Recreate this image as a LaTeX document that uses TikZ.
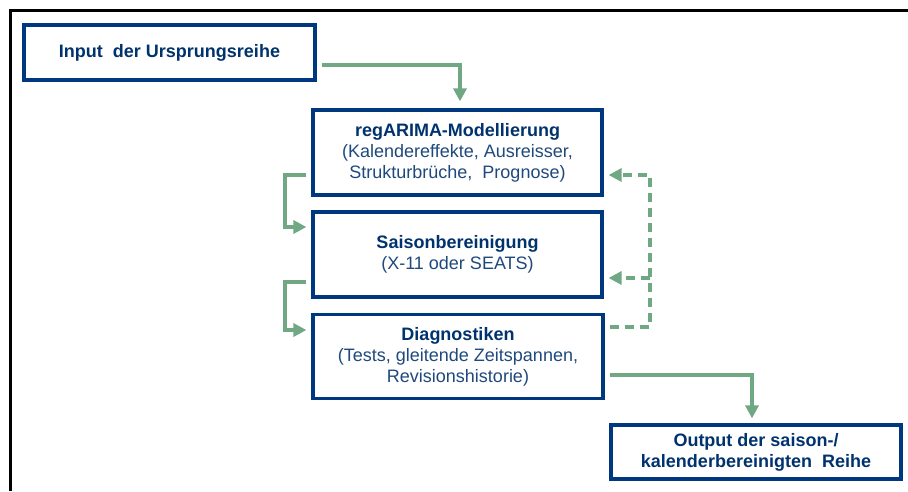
\documentclass[tikz,border=0pt]{standalone}
\usepackage{fontspec}
\setmainfont{Liberation Sans}
\usepackage{xcolor}
\usetikzlibrary{arrows.meta,calc,positioning}
\definecolor{boxblue}{RGB}{0,56,128}
\definecolor{textblue}{RGB}{0,51,110}
\definecolor{subblue}{RGB}{31,73,125}
\definecolor{flowgreen}{RGB}{112,168,132}

\begin{document}
\begin{tikzpicture}[x=1pt,y=-1pt,
  box/.style={draw=boxblue,line width=3.2pt,fill=white,align=center,
    font=\fontsize{18}{21}\selectfont,text=subblue,inner sep=0pt},
  flow/.style={draw=flowgreen,line width=4pt,
    -{Triangle[length=13pt,width=13pt]},shorten <=5pt,shorten >=5pt},
  feedback/.style={flow,dash pattern=on 9pt off 6pt}]
  \useasboundingbox (0,0) rectangle (908,491);
  \draw[line width=3pt] (10,491) -- (10,10) -- (908,10);

  \node[box,minimum width=291pt,minimum height=55pt] (input) at (169.5,52.5)
    {\textbf{\color{textblue}Input\ \ der Ursprungsreihe}};
  \node[box,minimum width=289pt,minimum height=85pt] (regarima) at (457.5,152.5)
    {\textbf{\color{textblue}regARIMA-Modellierung}\\(Kalendereffekte, Ausreisser,\\Strukturbrüche,\ \ Prognose)};
  \node[box,minimum width=289pt,minimum height=85pt] (saison) at (457.5,254.5)
    {\textbf{\color{textblue}Saisonbereinigung}\\(X-11 oder SEATS)};
  \node[box,minimum width=290pt,minimum height=84pt] (diag) at (458,356.5)
    {\textbf{\color{textblue}Diagnostiken}\\(Tests, gleitende Zeitspannen,\\Revisionshistorie)};
  \node[box,minimum width=290pt,minimum height=54pt] (output) at (756,452)
    {\textbf{\color{textblue}Output der saison-/}\\\textbf{\color{textblue}kalenderbereinigten\ \ Reihe}};

  \draw[flow,shorten >=7pt] ([yshift=-12.5pt]input.east) -| ([xshift=2.5pt]regarima.north);
  \draw[flow] ([yshift=-22.5pt]regarima.west) -- ++(-26,0) |- ([yshift=27.5pt]saison.west);
  \draw[flow] ([yshift=-27.5pt]saison.west) -- ++(-26,0) |- ([yshift=26.5pt]diag.west);
  \draw[feedback] ([yshift=29.5pt]diag.east) -- ++(45,0) coordinate (back)
    |- ([yshift=-22.5pt]regarima.east);
  \coordinate (sback) at ([yshift=-23.5pt]saison.east);
  \draw[feedback,shorten <=0pt] (back |- sback) -- (sback);
  \draw[flow] ([yshift=-18.5pt]diag.east) -| ([xshift=-4pt]output.north);
\end{tikzpicture}
\end{document}
